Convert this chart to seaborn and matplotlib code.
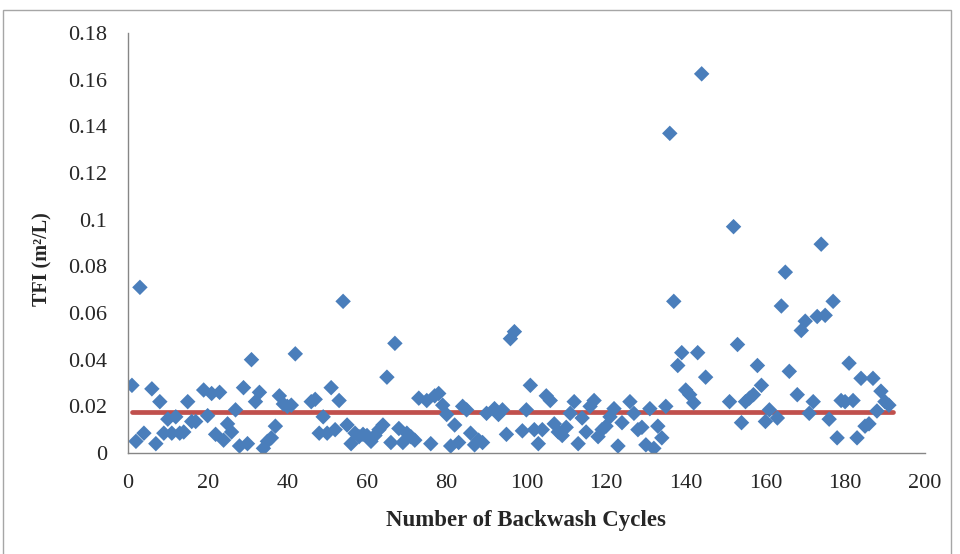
import numpy as np
import pandas as pd
import matplotlib
matplotlib.use("Agg")
import matplotlib.pyplot as plt
import seaborn as sns
from matplotlib.ticker import MultipleLocator, FuncFormatter
from matplotlib.patches import Rectangle

# cycle numbers and TFI values
cycles = [1, 2, 3, 4, 6, 7, 8, 9, 10, 11, 12, 13, 14, 15, 16, 17, 19, 20,
          21, 22, 23, 24, 25, 26, 27, 28, 29, 30, 31, 32, 33, 34, 35, 36, 37,
          38, 39, 40, 41, 42, 46, 47, 48, 49, 50, 51, 52, 53, 54, 55, 56, 57,
          58, 59, 60, 61, 62, 63, 64, 65, 66, 67, 68, 69, 70, 71, 72, 73, 75,
          76, 77, 78, 79, 80, 81, 82, 83, 84, 85, 86, 87, 88, 89, 90, 92, 93,
          94, 95, 96, 97, 99, 100, 101, 102, 103, 104, 105, 106, 107, 108,
          109, 110, 111, 112, 113, 114, 115, 116, 117, 118, 119, 120, 121,
          122, 123, 124, 126, 127, 128, 129, 130, 131, 132, 133, 134, 135,
          136, 137, 138, 139, 140, 141, 142, 143, 144, 145, 151, 152, 153,
          154, 155, 156, 157, 158, 159, 160, 161, 163, 164, 165, 166, 168,
          169, 170, 171, 172, 173, 174, 175, 176, 177, 178, 179, 180, 181,
          182, 183, 184, 185, 186, 187, 188, 189, 190, 191]
tfi = [0.029, 0.005, 0.071, 0.0085, 0.0275, 0.004, 0.022, 0.0085, 0.0145,
       0.0085, 0.0155, 0.0085, 0.009, 0.022, 0.0135, 0.0135, 0.027, 0.016,
       0.0255, 0.008, 0.026, 0.0055, 0.0125, 0.009, 0.0185, 0.003, 0.028,
       0.004, 0.040, 0.022, 0.026, 0.002, 0.005, 0.0065, 0.0115, 0.0245,
       0.021, 0.020, 0.0205, 0.0425, 0.022, 0.023, 0.0085, 0.0155, 0.0085,
       0.028, 0.010, 0.0225, 0.065, 0.012, 0.004, 0.0085, 0.007, 0.008,
       0.0075, 0.005, 0.0075, 0.010, 0.012, 0.0325, 0.0045, 0.047, 0.0105,
       0.0045, 0.0085, 0.007, 0.0055, 0.0235, 0.0225, 0.004, 0.0245, 0.0255,
       0.0205, 0.0165, 0.003, 0.012, 0.0045, 0.020, 0.0185, 0.0085, 0.0035,
       0.0055, 0.0045, 0.017, 0.019, 0.0165, 0.0185, 0.008, 0.049, 0.052,
       0.0095, 0.0185, 0.029, 0.010, 0.004, 0.010, 0.0245, 0.0225, 0.0125,
       0.009, 0.0075, 0.011, 0.017, 0.022, 0.004, 0.015, 0.009, 0.020,
       0.0225, 0.007, 0.010, 0.0115, 0.0155, 0.019, 0.003, 0.013, 0.022,
       0.017, 0.010, 0.011, 0.0035, 0.019, 0.002, 0.0115, 0.0065, 0.020,
       0.137, 0.065, 0.0375, 0.043, 0.027, 0.025, 0.0215, 0.043, 0.1625,
       0.0325, 0.022, 0.097, 0.0465, 0.013, 0.022, 0.0235, 0.025, 0.0375,
       0.029, 0.0135, 0.0185, 0.015, 0.063, 0.0775, 0.035, 0.025, 0.0525,
       0.0565, 0.017, 0.022, 0.0585, 0.0895, 0.059, 0.0145, 0.065, 0.0065,
       0.0225, 0.022, 0.0385, 0.0225, 0.0065, 0.032, 0.0115, 0.0125, 0.032,
       0.018, 0.0265, 0.022, 0.0205]
mean_tfi = 0.0177
mean_span = [1, 192]

df = pd.DataFrame({"cycle": cycles, "tfi": tfi})
mean_df = pd.DataFrame({"cycle": mean_span, "tfi": [mean_tfi, mean_tfi]})

sns.set_style("white")
plt.rcParams["font.family"] = ["Liberation Serif", "DejaVu Serif"]

fig = plt.figure(figsize=(9.6, 5.54), dpi=100)
ax = fig.add_axes([0.1333, 0.1823, 0.830, 0.7581])

sns.lineplot(data=mean_df, x="cycle", y="tfi", ax=ax, color="#C0504D",
             linewidth=3.4, zorder=1)
sns.scatterplot(data=df, x="cycle", y="tfi", ax=ax, marker="D", s=62,
                color="#4A7EBB", edgecolor="none", zorder=2)

ax.set_xlim(0, 200)
ax.set_ylim(0, 0.18)
ax.xaxis.set_major_locator(MultipleLocator(20))
ax.xaxis.set_minor_locator(MultipleLocator(4))
ax.yaxis.set_major_locator(MultipleLocator(0.02))
ax.yaxis.set_minor_locator(MultipleLocator(0.004))
ax.yaxis.set_major_formatter(FuncFormatter(
    lambda v, p: f"{v:.2f}".rstrip("0").rstrip(".") if v else "0"))

ax.tick_params(axis="both", which="major", direction="inout", length=8,
               width=1, color="#868686", labelsize=16)
ax.tick_params(axis="x", which="major", pad=11)
ax.tick_params(axis="y", which="major", pad=11)
ax.tick_params(axis="both", which="minor", direction="out", length=4,
               width=1, color="#868686")

for side in ["top", "right"]:
    ax.spines[side].set_visible(False)
for side in ["left", "bottom"]:
    ax.spines[side].set_color("#868686")
    ax.spines[side].set_linewidth(1)

ax.set_xlabel("Number of Backwash Cycles", fontsize=16.5, fontweight="bold",
              labelpad=12)
ax.set_ylabel("TFI (m²/L)", fontsize=14.5, fontweight="bold")
ax.yaxis.set_label_coords(-0.095, 0.462)

fig.patches.append(Rectangle((3 / 960, -0.01), 948 / 960, 1 - 10 / 554 + 0.01,
                             transform=fig.transFigure, fill=False,
                             edgecolor="#A6A6A6", linewidth=1))

fig.savefig("out.png", dpi=100)
